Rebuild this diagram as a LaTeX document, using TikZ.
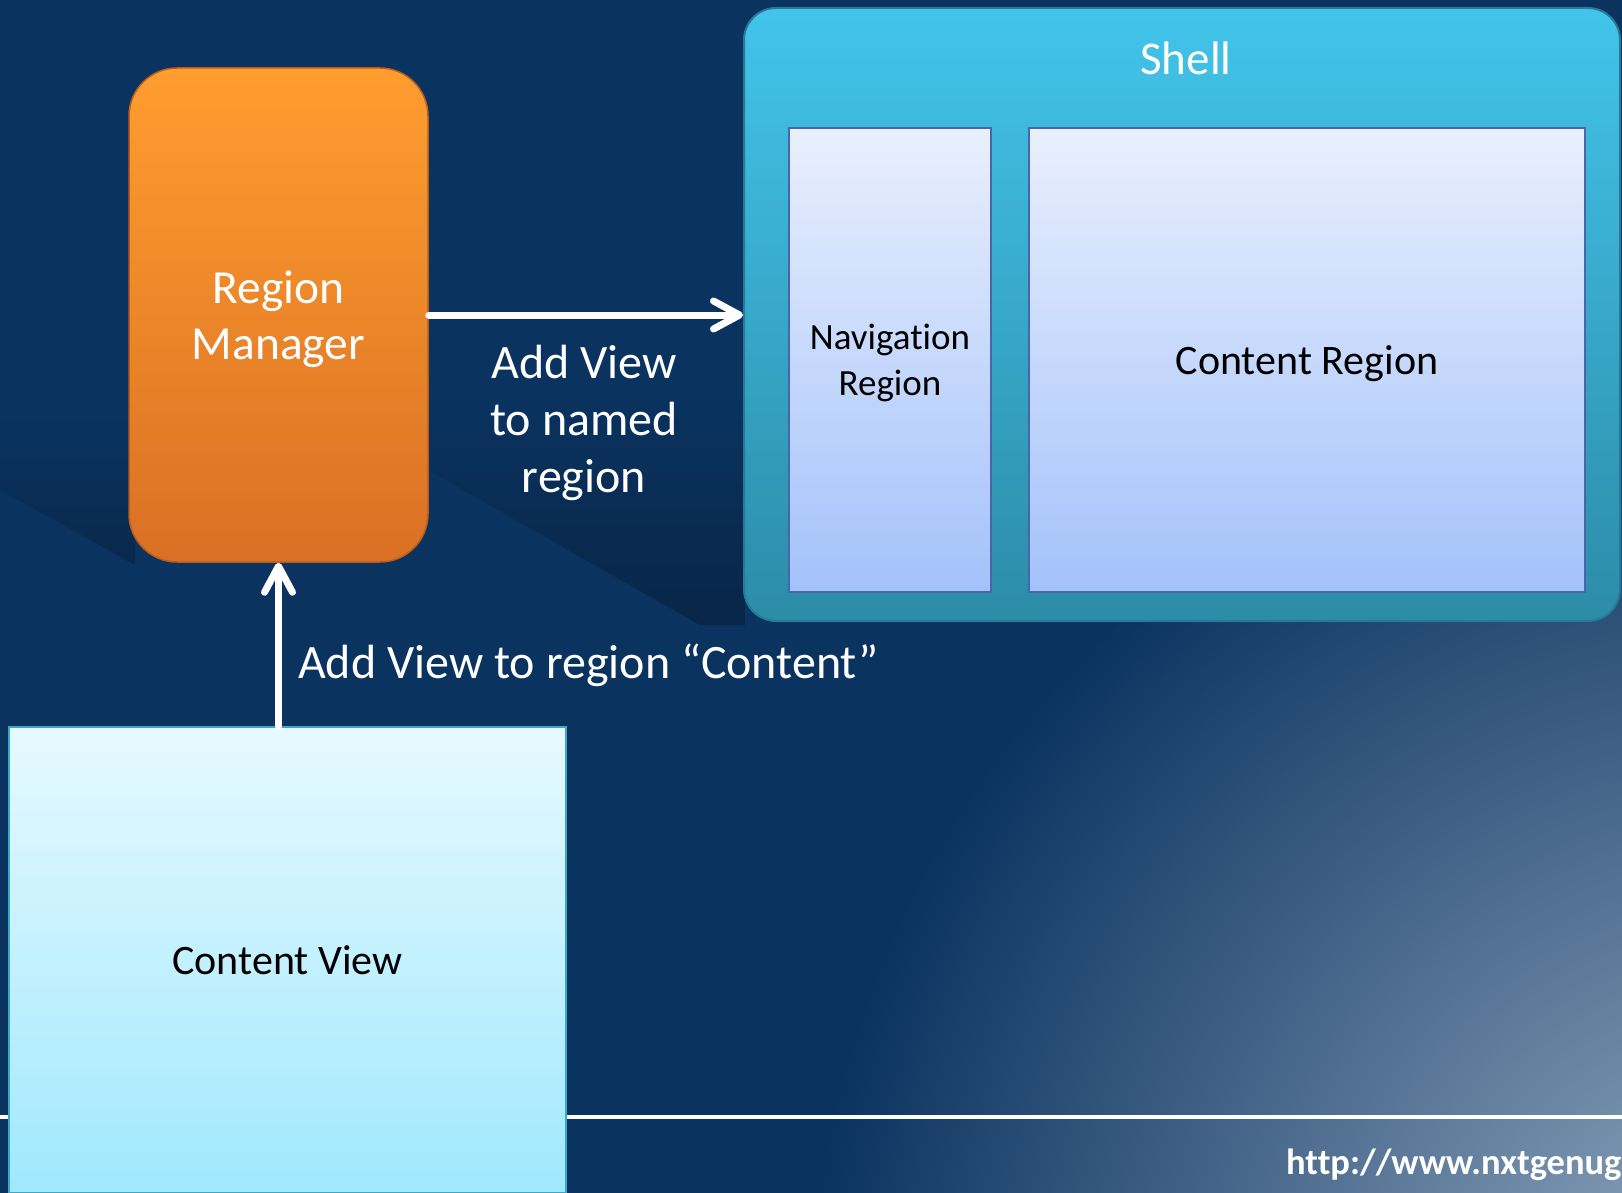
\documentclass[tikz,border=0pt]{standalone}
\usepackage{fontspec}
\setmainfont[Ligatures=CommonOff]{Carlito}
\usetikzlibrary{arrows.meta,fadings,positioning}

\definecolor{fondo}{RGB}{11,51,96}
\definecolor{brillo}{RGB}{150,172,195}
\definecolor{naranjaA}{RGB}{255,157,47}
\definecolor{naranjaB}{RGB}{217,112,36}
\definecolor{naranjaC}{RGB}{185,92,28}
\definecolor{shellA}{RGB}{66,196,234}
\definecolor{shellB}{RGB}{44,140,168}
\definecolor{shellC}{RGB}{38,122,152}
\definecolor{regionA}{RGB}{233,239,253}
\definecolor{regionB}{RGB}{163,194,250}
\definecolor{regionC}{RGB}{72,102,170}
\definecolor{vistaA}{RGB}{230,249,255}
\definecolor{vistaB}{RGB}{160,232,253}
\definecolor{vistaC}{RGB}{60,168,200}
\tikzfading[name=sombrafade, top color=transparent!100, bottom color=transparent!0]

\begin{document}
\begin{tikzpicture}[x=1pt,y=-1pt,
    flecha/.style={draw=white,line width=7pt,line cap=round,-{Straight Barb[length=26pt,width=28pt,round]}},
    gestor/.style={rounded corners=48pt,top color=naranjaA,bottom color=naranjaB,draw=naranjaC,line width=1.5pt,
        minimum width=299pt,minimum height=494pt,inner sep=0pt,text depth=0pt,text=white,align=center,font=\fontsize{47.5}{56}\selectfont},
    shellbox/.style={rounded corners=32pt,top color=shellA,bottom color=shellB,draw=shellC,line width=2pt,
        minimum width=876pt,minimum height=613pt,inner sep=0pt},
    regbox/.style={top color=regionA,bottom color=regionB,draw=regionC,line width=1.5pt,
        minimum height=464pt,inner sep=0pt,text depth=0pt,text=black,align=center},
    vistabox/.style={top color=vistaA,bottom color=vistaB,draw=vistaC,line width=1.5pt,
        minimum width=557pt,minimum height=466pt,inner sep=0pt,text=black,font=\fontsize{42}{50}\selectfont},
    etiqueta/.style={text=white,align=center,inner sep=0pt,font=\fontsize{48}{57}\selectfont}]

    \useasboundingbox (0,0) rectangle (1622,1193);
    \clip (0,0) rectangle (1622,1193);

    %Fondo
    \fill[fondo] (0,0) rectangle (1622,1193);
    \shade[inner color=brillo,outer color=fondo] (1760,1320) circle (950);
    \fill[black,opacity=0.2,path fading=sombrafade] (0,420)--(135,420)--(135,565)--(0,490)--cycle;
    \fill[black,opacity=0.25,path fading=sombrafade] (428,400)--(745,400)--(745,625)--(700,625)--(428,470)--cycle;
    \draw[white,line width=4pt] (0,1117)--(1622,1117);

    %Nodos
    \node[gestor] (gestor) at (278.5,315) {Region\\Manager};
    \node[shellbox] (shell) at (1182,314.5) {};
    \node[etiqueta,font=\fontsize{47}{57}\selectfont] (shelltit) at (1186,58) {Shell};
    \node[regbox,minimum width=202pt,font=\fontsize{37}{46}\selectfont] (nav) at (890,360) {Navigation\\Region};
    \node[regbox,minimum width=556pt,font=\fontsize{42}{50}\selectfont] (contreg) at (1307,360) {Content Region};
    \node[vistabox] (vista) at (287.5,960) {Content View};

    %Flechas
    \draw[flecha] (gestor.east)--(gestor.east -| shell.west);
    \draw[flecha] (gestor.south |- vista.north)--(gestor.south);

    %Textos
    \node[etiqueta] (lblnombre) at (584,423) {Add View\\to named\\region};
    \node[etiqueta,anchor=base west] (lblcontent) at (298,678) {Add View to region “Content”};
    \node[text=white,anchor=base west,inner sep=0pt,font=\bfseries\fontsize{36.5}{44}\selectfont] (url) at (1286,1174) {http://www.nxtgenug};
\end{tikzpicture}
\end{document}
